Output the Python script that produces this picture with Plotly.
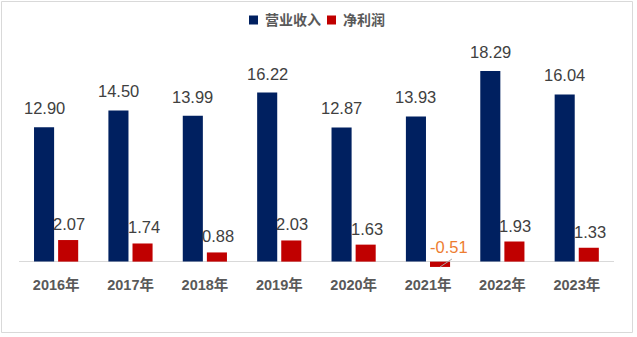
import plotly.graph_objects as go

# ---- data ----
years = ["2016年", "2017年", "2018年", "2019年", "2020年", "2021年", "2022年", "2023年"]
revenue = [12.90, 14.50, 13.99, 16.22, 12.87, 13.93, 18.29, 16.04]
net_profit = [2.07, 1.74, 0.88, 2.03, 1.63, -0.51, 1.93, 1.33]
series_names = ["营业收入", "净利润"]
series_colors = ["#002060", "#C00000"]

# ---- layout geometry (pixels) ----
W, H = 637, 337
ML, MR, MT, MB = 19, 23, 50, 66
PW, PH = W - ML - MR, H - MT - MB


def px_x(x):
    return (x - ML) / PW


def px_y(y):
    return (H - MB - y) / PH


xs = list(range(len(years)))
bar_w = 0.27
blue_off, red_off = -0.298, 0.026
blue_c, red_c = blue_off + bar_w / 2, red_off + bar_w / 2

num_font = dict(family="Liberation Sans, Arial, sans-serif", size=16.5, color="#404040")
cjk_family = "Liberation Sans, Noto Sans CJK SC, sans-serif"

fig = go.Figure()
fig.add_trace(go.Bar(x=xs, y=revenue, name=series_names[0], width=bar_w, offset=blue_off,
                     marker=dict(color=series_colors[0], line=dict(width=0)), showlegend=False))
fig.add_trace(go.Bar(x=xs, y=net_profit, name=series_names[1], width=bar_w, offset=red_off,
                     marker=dict(color=series_colors[1], line=dict(width=0)), showlegend=False))

annotations = []
shapes = []
for i, v in enumerate(revenue):
    annotations.append(dict(x=i + blue_c, y=v, text=f"{v:.2f}", showarrow=False,
                            xanchor="center", yanchor="bottom", yshift=8, font=num_font))
for i, v in enumerate(net_profit):
    if v >= 0:
        annotations.append(dict(x=i + red_c, y=v, text=f"{v:.2f}", showarrow=False,
                                xanchor="center", yanchor="bottom", yshift=5, xshift=1,
                                font=num_font))
    else:
        annotations.append(dict(x=i + red_c, y=0, text=f"{v:.2f}", showarrow=False,
                                xanchor="center", yanchor="middle", yshift=15, xshift=9,
                                font=dict(num_font, color="#ED7D31")))
        # leader line from the bar to its label
        shapes.append(dict(type="line", xref="x", yref="y", x0=i + red_c, y0=v,
                           x1=i + red_c + 0.16, y1=0.25,
                           line=dict(color="#A6A6A6", width=1)))

# legend drawn as swatches + text
legend_items = [(249, 263), (327, 341)]
for (sx, tx), name, col in zip(legend_items, series_names, series_colors):
    shapes.append(dict(type="rect", xref="paper", yref="paper",
                       x0=px_x(sx), x1=px_x(sx + 9), y0=px_y(24.5), y1=px_y(15.5),
                       fillcolor=col, line=dict(width=0)))
    annotations.append(dict(xref="paper", yref="paper", x=px_x(tx), y=px_y(20),
                            text=name, showarrow=False, xanchor="left", yanchor="middle",
                            font=dict(family=cjk_family, size=14, color="#595959", weight="bold")))

# outer frame
shapes.append(dict(type="rect", xref="paper", yref="paper",
                   x0=px_x(1.5), x1=px_x(632.5), y0=px_y(332.5), y1=px_y(1.5),
                   line=dict(color="#D9D9D9", width=1), fillcolor="rgba(0,0,0,0)", layer="below"))

fig.update_layout(
    width=W, height=H,
    margin=dict(l=ML, r=MR, t=MT, b=MB, pad=0),
    paper_bgcolor="white", plot_bgcolor="white",
    barmode="overlay",
    showlegend=False,
    annotations=annotations,
    shapes=shapes,
    xaxis=dict(range=[-0.5, len(years) - 0.5], tickmode="array", tickvals=xs, ticktext=years,
               showgrid=False, zeroline=False, showline=False, ticks="",
               ticklabelstandoff=3,
               tickfont=dict(family=cjk_family, size=14.5, color="#595959", weight="bold"),
               fixedrange=True),
    yaxis=dict(range=[-0.9, 20.3], showgrid=False, showticklabels=False, ticks="",
               zeroline=True, zerolinecolor="#D9D9D9", zerolinewidth=1, showline=False,
               fixedrange=True),
)

fig.write_html("out.html", config={"displayModeBar": False})
